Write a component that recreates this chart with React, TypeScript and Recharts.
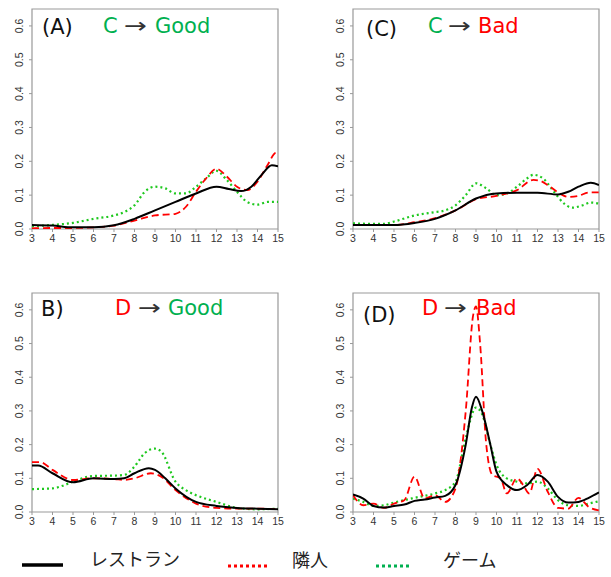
import React from 'react';
import { LineChart, Line, XAxis, YAxis, ReferenceArea } from 'recharts';

type P = [number, number];

// Panel A: C -> Good
const aRestaurant: P[] = [[3,0.012],[4,0.01],[5,0.005],[6,0.005],[7,0.011],[8,0.03],[9,0.055],[10,0.08],[11,0.105],[12,0.125],[12.6,0.118],[13.2,0.112],[13.7,0.125],[14.2,0.16],[14.7,0.188],[15,0.185]];
const aNeighbor: P[] = [[3,0.002],[4,0.003],[5,0.003],[6,0.005],[7,0.01],[8,0.025],[9,0.04],[10,0.045],[10.5,0.065],[11,0.11],[11.5,0.15],[12,0.178],[12.5,0.155],[13,0.125],[13.5,0.115],[14,0.14],[14.5,0.19],[14.9,0.225],[15,0.22]];
const aGame: P[] = [[3,0.008],[4,0.012],[5,0.018],[6,0.03],[7,0.04],[7.5,0.05],[8,0.07],[8.5,0.11],[9,0.125],[9.5,0.12],[10,0.105],[10.5,0.105],[11,0.125],[11.5,0.15],[12,0.172],[12.5,0.145],[13,0.11],[13.5,0.08],[14,0.072],[14.5,0.08],[15,0.08]];

// Panel C: C -> Bad
const cRestaurant: P[] = [[3,0.012],[4,0.012],[5,0.012],[6,0.018],[7,0.03],[8,0.055],[9,0.09],[10,0.105],[11,0.107],[12,0.107],[13,0.102],[13.5,0.11],[14,0.125],[14.6,0.137],[15,0.13]];
const cNeighbor: P[] = [[3,0.012],[4,0.012],[5,0.012],[6,0.02],[7,0.032],[8,0.055],[9,0.088],[10,0.098],[11,0.115],[11.8,0.145],[12.1,0.143],[12.5,0.13],[13,0.108],[13.5,0.095],[14,0.098],[14.5,0.108],[15,0.108]];
const cGame: P[] = [[3,0.017],[4,0.015],[4.5,0.015],[5,0.022],[6,0.04],[7,0.05],[7.5,0.055],[8,0.07],[8.5,0.1],[9,0.135],[9.5,0.12],[10,0.1],[10.5,0.105],[11,0.125],[11.5,0.15],[11.8,0.16],[12.3,0.148],[12.8,0.11],[13.3,0.075],[13.7,0.063],[14.2,0.07],[14.6,0.078],[15,0.075]];

// Panel B: D -> Good
const bRestaurant: P[] = [[3,0.138],[3.3,0.138],[4,0.115],[5,0.088],[6,0.1],[7,0.098],[7.5,0.1],[8,0.115],[8.7,0.13],[9,0.125],[9.5,0.1],[10,0.07],[11,0.03],[12,0.018],[13,0.012],[14,0.01],[15,0.008]];
const bNeighbor: P[] = [[3,0.148],[3.4,0.148],[4,0.125],[5,0.095],[6,0.1],[7,0.098],[7.5,0.095],[8,0.1],[8.8,0.115],[9.3,0.105],[10,0.065],[11,0.025],[12,0.012],[13,0.01],[14,0.01],[15,0.008]];
const bGame: P[] = [[3,0.068],[4,0.07],[4.5,0.078],[5,0.09],[6,0.107],[7,0.108],[7.5,0.11],[8,0.135],[8.5,0.175],[9,0.188],[9.3,0.18],[10,0.09],[10.5,0.065],[11,0.05],[12,0.03],[13,0.012],[14,0.008],[15,0.01]];

// Panel D: D -> Bad
const dRestaurant: P[] = [[3,0.052],[3.5,0.04],[4,0.018],[4.5,0.013],[5,0.018],[5.5,0.022],[6,0.033],[6.5,0.037],[7,0.043],[7.5,0.048],[8,0.08],[8.5,0.2],[8.8,0.31],[9,0.342],[9.3,0.3],[9.7,0.2],[10,0.12],[10.5,0.08],[11,0.065],[11.5,0.08],[12,0.11],[12.5,0.09],[13,0.045],[13.5,0.028],[14,0.03],[14.5,0.042],[15,0.058]];
const dNeighbor: P[] = [[3,0.05],[3.5,0.02],[4,0.025],[4.5,0.012],[5,0.025],[5.5,0.035],[6,0.105],[6.5,0.04],[7,0.05],[7.5,0.03],[8,0.07],[8.5,0.3],[8.85,0.58],[9,0.61],[9.2,0.5],[9.5,0.2],[9.8,0.11],[10.2,0.1],[10.5,0.055],[11,0.1],[11.3,0.08],[11.6,0.055],[12,0.128],[12.5,0.06],[13,0.012],[13.5,0.01],[14,0.042],[14.5,0.015],[15,0.005]];
const dGame: P[] = [[3,0.04],[3.5,0.03],[4,0.018],[4.5,0.02],[5,0.028],[6,0.042],[7,0.055],[7.5,0.065],[8,0.09],[8.5,0.22],[9,0.31],[9.3,0.29],[9.7,0.2],[10,0.14],[10.5,0.1],[11,0.09],[11.5,0.085],[12,0.09],[12.5,0.07],[13,0.035],[13.5,0.02],[14,0.018],[14.5,0.025],[15,0.032]];

const xTicks = [3, 4, 5, 6, 7, 8, 9, 10, 11, 12, 13, 14, 15];
const yTicks = [0, 0.1, 0.2, 0.3, 0.4, 0.5, 0.6];
const legendLabels = ['レストラン', '隣人', 'ゲーム'];

const BLACK = '#000000';
const RED = '#ff0000';
const GREEN = '#1ec81e';
const TGREEN = '#00b050';
const AXIS = '#999999';

const toObj = (arr: P[]) => arr.map(([x, y]) => ({ x, y }));

const YTick = (props: any) => {
  const { x, y, payload } = props;
  const x0 = x - 4;
  return (
    <text x={x0} y={y} transform={`rotate(-90 ${x0} ${y})`} textAnchor="middle" fontSize={10.5} fill="#333" fontFamily="Liberation Sans, Arial, sans-serif">
      {Number(payload.value).toFixed(1)}
    </text>
  );
};

const XTick = (props: any) => {
  const { x, y, payload } = props;
  return (
    <text x={x} y={y + 8} textAnchor="middle" fontSize={10.5} fill="#333" fontFamily="Liberation Sans, Arial, sans-serif">
      {payload.value}
    </text>
  );
};

const Panel = ({ left, top, height, marginTop, restaurant, neighbor, game }: any) => (
  <div style={{ position: 'absolute', left, top }}>
    <LineChart width={288} height={height} margin={{ top: marginTop, right: 10, bottom: 0, left: 0 }}>
      <XAxis type="number" dataKey="x" domain={[3, 15]} ticks={xTicks} interval={0} allowDataOverflow axisLine={false} tickLine={{ stroke: AXIS }} tickSize={3} tickMargin={2} height={25} tick={<XTick />} />
      <YAxis type="number" domain={[0, 0.65]} ticks={yTicks} interval={0} allowDataOverflow axisLine={false} tickLine={{ stroke: AXIS }} tickSize={3} tickMargin={2} width={32} tick={<YTick />} />
      <ReferenceArea x1={3} x2={15} y1={0} y2={0.65} fill="none" stroke={AXIS} strokeWidth={1.2} ifOverflow="visible" />
      <Line data={toObj(game)} dataKey="y" type="monotone" stroke={GREEN} strokeWidth={2.2} strokeDasharray="2 3" dot={false} isAnimationActive={false} />
      <Line data={toObj(neighbor)} dataKey="y" type="monotone" stroke={RED} strokeWidth={1.8} strokeDasharray="7 4" dot={false} isAnimationActive={false} />
      <Line data={toObj(restaurant)} dataKey="y" type="monotone" stroke={BLACK} strokeWidth={2} dot={false} isAnimationActive={false} />
    </LineChart>
  </div>
);

const TFONT = 'DejaVu Sans, Verdana, sans-serif';

const Title = ({ lx, ly, label, x1, c1, s1, xa, x2, c2, s2, y }: any) => (
  <g fontFamily={TFONT} fontSize={21}>
    <text x={lx} y={ly} fill="#111">{label}</text>
    <text x={x1} y={y} fill={c1}>{s1}</text>
    <text x={xa} y={y} fill="#333" textLength={23} lengthAdjust="spacingAndGlyphs">→</text>
    <text x={x2} y={y} fill={c2}>{s2}</text>
  </g>
);

export default function App() {
  return (
    <div style={{ position: 'absolute', left: 0, top: 0, width: 611, height: 577, background: '#fff', overflow: 'hidden', fontFamily: 'Liberation Sans, Arial, sans-serif' }}>
      <Panel left={0} top={0} height={254} marginTop={9} restaurant={aRestaurant} neighbor={aNeighbor} game={aGame} />
      <Panel left={321} top={0} height={254} marginTop={9} restaurant={cRestaurant} neighbor={cNeighbor} game={cGame} />
      <Panel left={0} top={280} height={257} marginTop={13} restaurant={bRestaurant} neighbor={bNeighbor} game={bGame} />
      <Panel left={321} top={280} height={257} marginTop={13} restaurant={dRestaurant} neighbor={dNeighbor} game={dGame} />
      <svg width={611} height={577} style={{ position: 'absolute', left: 0, top: 0, pointerEvents: 'none' }}>
        <Title lx={42} ly={34} label="(A)" x1={103} c1={TGREEN} s1="C" xa={124} x2={155} c2={TGREEN} s2="Good" y={33} />
        <Title lx={366} ly={36} label="(C)" x1={428} c1={TGREEN} s1="C" xa={448} x2={478} c2={RED} s2="Bad" y={33} />
        <Title lx={41} ly={316} label="B)" x1={115} c1={RED} s1="D" xa={138} x2={168} c2={TGREEN} s2="Good" y={315} />
        <Title lx={363} ly={322} label="(D)" x1={422} c1={RED} s1="D" xa={444} x2={476} c2={RED} s2="Bad" y={315} />
        <g>
          <line x1={22} y1={565} x2={63} y2={565} stroke="#000" strokeWidth={3.5} />
          <line x1={228} y1={566} x2={268} y2={566} stroke={RED} strokeWidth={3} strokeDasharray="3 3" />
          <line x1={376} y1={566} x2={411} y2={566} stroke={TGREEN} strokeWidth={3} strokeDasharray="3 3" />
          <g fontFamily="Noto Sans CJK JP, sans-serif" fontSize={18} fill="#222">
            <text x={90} y={566}>{legendLabels[0]}</text>
            <text x={292} y={567}>{legendLabels[1]}</text>
            <text x={443} y={567}>{legendLabels[2]}</text>
          </g>
        </g>
      </svg>
    </div>
  );
}
